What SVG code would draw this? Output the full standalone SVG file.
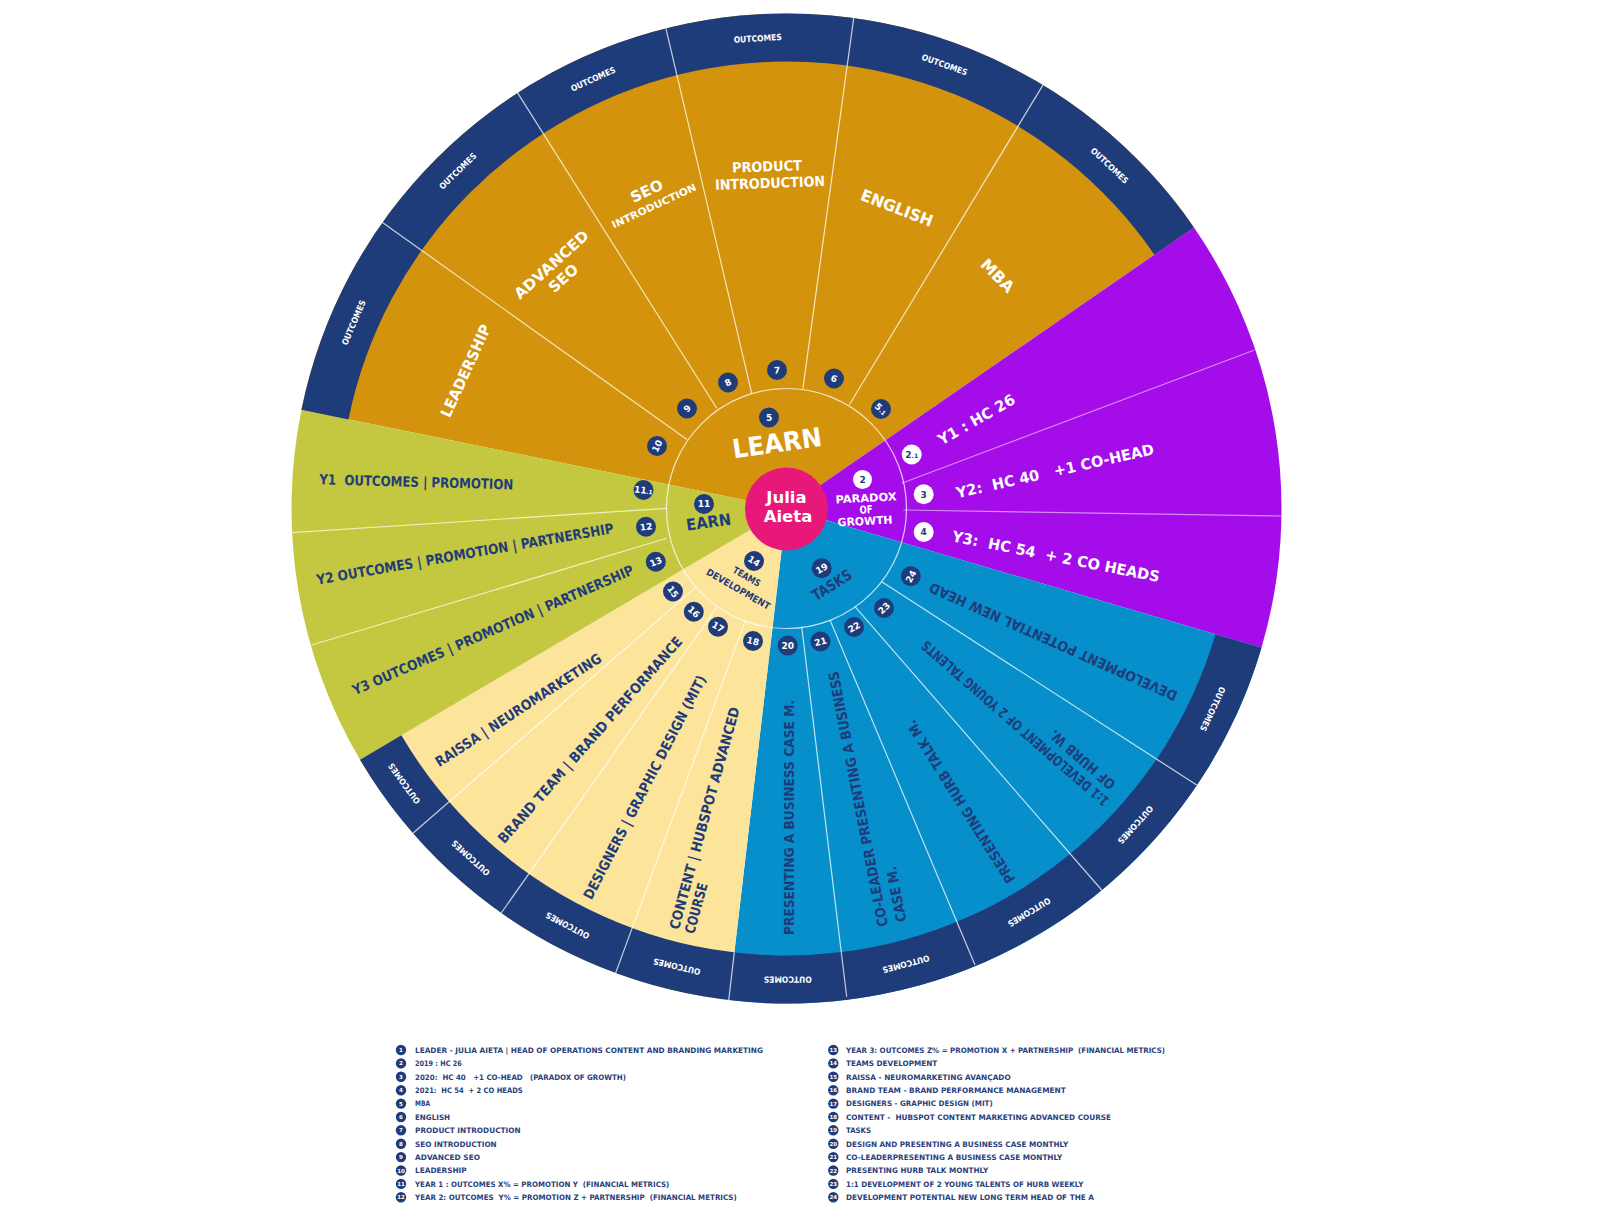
<svg xmlns="http://www.w3.org/2000/svg" width="1601" height="1223" viewBox="0 0 1601 1223">
<style>
.t{font-family:'DejaVu Sans','Liberation Sans',sans-serif;font-weight:700}
.w{fill:#fff}
.n{fill:#1F3C7A}
.c{text-anchor:middle}
.dv{stroke:#fff;stroke-opacity:.75;stroke-width:1.2;fill:none}
.bd circle{fill:#1F3C7A}
.bd text{fill:#fff;font-family:'DejaVu Sans','Liberation Sans',sans-serif;font-weight:700;font-size:9px;text-anchor:middle}
.bw circle{fill:#fff}
.bw text{fill:#1F3C7A;font-family:'DejaVu Sans','Liberation Sans',sans-serif;font-weight:700;font-size:9px;text-anchor:middle}
.oc{fill:#fff;font-family:'DejaVu Sans','Liberation Sans',sans-serif;font-weight:700;font-size:8.5px;text-anchor:middle}
.lg text{fill:#2A3F7C;font-family:'DejaVu Sans','Liberation Sans',sans-serif;font-weight:700;font-size:7.5px}
.lg circle{fill:#1F3C7A}
.lg .ln{fill:#fff;font-size:5.5px;text-anchor:middle}
</style>
<rect width="1601" height="1223" fill="#fff"/>

<g id="wheel" transform="translate(786.5 508.5)">
  <path id="sector-learn" d="M0,0 L-485.06,-98.69 A495,495 0 0 1 407.45,-281.08 Z" fill="#D4930C"/>
  <path id="sector-paradox" d="M0,0 L407.45,-281.08 A495,495 0 0 1 474.98,139.34 Z" fill="#A50CEA"/>
  <path id="sector-tasks" d="M0,0 L474.98,139.34 A495,495 0 0 1 -57.75,491.62 Z" fill="#078FCB"/>
  <path id="sector-teams" d="M0,0 L-57.75,491.62 A495,495 0 0 1 -426.51,251.23 Z" fill="#FCE59B"/>
  <path id="sector-earn" d="M0,0 L-426.51,251.23 A495,495 0 0 1 -485.06,-98.69 Z" fill="#C3C840"/>
  <path id="ring-top" d="M-485.06,-98.69 A495,495 0 0 1 407.45,-281.08 L367.94,-253.82 A447,447 0 0 0 -438.02,-89.12 Z" fill="#1F3C7A"/>
  <path id="ring-bottom" d="M474.98,139.34 A495,495 0 0 1 -426.51,251.23 L-385.15,226.87 A447,447 0 0 0 428.92,125.83 Z" fill="#1F3C7A"/>
</g>

<g id="connectors" transform="translate(786.5 508.5)">
  <path class="dv" d="M-99.5,-69 L-404,-286 M-69.8,-100.2 L-268.9,-415.6 M-34.8,-115.2 L-120.6,-480.1 M16.4,-119.9 L67.2,-490.4 M62.7,-103.5 L256.4,-423.4"/>
  <path d="M115.2,-25.2 L467.3,-158.3 M116.8,1.5 L494.5,7.5" stroke="#D58AF5" stroke-width="1.2" fill="none"/>
  <path d="M-119.8,-0.2 L-494.8,24.2 M-119.8,29.8 L-474.8,136.5" stroke="#EEF0B8" stroke-width="1.2" fill="none"/>
  <path class="dv" d="M-91.3,79.4 L-373.6,324.8 M-69.7,98.9 L-285.3,404.5 M-41.8,113.6 L-170.9,464.6"/>
  <path class="dv" d="M15.2,118.2 L60.2,488.2 M43.5,111.5 L188.5,456.5 M68.5,98.2 L315.2,381.5 M95.2,73.2 L410.2,276.5 M-52.2,443.9 L-57.75,491.62"/>
  <circle r="120" class="dv" stroke-width="1.3"/>
</g>

<g id="outcomes">
  <text class="oc" dy=".35em" transform="translate(353.7 322.6) rotate(-66.75)" textLength="48" lengthAdjust="spacingAndGlyphs">OUTCOMES</text>
  <text class="oc" dy=".35em" transform="translate(457.8 171.1) rotate(-44.25)" textLength="48" lengthAdjust="spacingAndGlyphs">OUTCOMES</text>
  <text class="oc" dy=".35em" transform="translate(593.1 79.1) rotate(-24.25)" textLength="48" lengthAdjust="spacingAndGlyphs">OUTCOMES</text>
  <text class="oc" dy=".35em" transform="translate(757.7 38.4) rotate(-3.5)" textLength="48" lengthAdjust="spacingAndGlyphs">OUTCOMES</text>
  <text class="oc" dy=".35em" transform="translate(944.5 64.8) rotate(19.6)" textLength="48" lengthAdjust="spacingAndGlyphs">OUTCOMES</text>
  <text class="oc" dy=".35em" transform="translate(1109.5 165.7) rotate(43.3)" textLength="48" lengthAdjust="spacingAndGlyphs">OUTCOMES</text>
  <text class="oc" dy=".35em" transform="translate(1212.7 709) rotate(115.2)" textLength="48" lengthAdjust="spacingAndGlyphs">OUTCOMES</text>
  <text class="oc" dy=".35em" transform="translate(1135.4 824.9) rotate(132.2)" textLength="48" lengthAdjust="spacingAndGlyphs">OUTCOMES</text>
  <text class="oc" dy=".35em" transform="translate(1029.1 912.2) rotate(149)" textLength="48" lengthAdjust="spacingAndGlyphs">OUTCOMES</text>
  <text class="oc" dy=".35em" transform="translate(906 964.1) rotate(165.3)" textLength="48" lengthAdjust="spacingAndGlyphs">OUTCOMES</text>
  <text class="oc" dy=".35em" transform="translate(787.7 979.5) rotate(179.85)" textLength="48" lengthAdjust="spacingAndGlyphs">OUTCOMES</text>
  <text class="oc" dy=".35em" transform="translate(676.9 966.6) rotate(193.45)" textLength="48" lengthAdjust="spacingAndGlyphs">OUTCOMES</text>
  <text class="oc" dy=".35em" transform="translate(567.6 925.5) rotate(207.7)" textLength="48" lengthAdjust="spacingAndGlyphs">OUTCOMES</text>
  <text class="oc" dy=".35em" transform="translate(470.7 858) rotate(222.1)" textLength="48" lengthAdjust="spacingAndGlyphs">OUTCOMES</text>
  <text class="oc" dy=".35em" transform="translate(404.2 783.6) rotate(234.25)" textLength="48" lengthAdjust="spacingAndGlyphs">OUTCOMES</text>
</g>

<g id="learn-items">
  <g id="n10"><text class="t w c" font-size="15" dy=".35em" transform="translate(465.8 370.8) rotate(-65.5)" textLength="100" lengthAdjust="spacingAndGlyphs">LEADERSHIP</text>
    <g class="bd" transform="translate(657 446)"><circle r="10"/><text transform="rotate(-64)" dy="3.3">10</text></g></g>
  <g id="n9"><text class="t w c" font-size="15" dy=".35em" transform="translate(551.5 264.7) rotate(-42)" textLength="94" lengthAdjust="spacingAndGlyphs">ADVANCED</text>
    <text class="t w c" font-size="15" dy=".35em" transform="translate(563.4 278.2) rotate(-42)" textLength="34" lengthAdjust="spacingAndGlyphs">SEO</text>
    <g class="bd" transform="translate(687 408.5)"><circle r="10"/><text transform="rotate(-45)" dy="3.3">9</text></g></g>
  <g id="n8"><text class="t w c" font-size="15" dy=".35em" transform="translate(646.7 191) rotate(-25)" textLength="34" lengthAdjust="spacingAndGlyphs">SEO</text>
    <text class="t w c" font-size="10" dy=".35em" transform="translate(654 206) rotate(-25)" textLength="92" lengthAdjust="spacingAndGlyphs">INTRODUCTION</text>
    <g class="bd" transform="translate(728 382.5)"><circle r="10"/><text transform="rotate(-25)" dy="3.3">8</text></g></g>
  <g id="n7"><text class="t w c" font-size="14" dy=".35em" transform="translate(767 166.5) rotate(-2)" textLength="70" lengthAdjust="spacingAndGlyphs">PRODUCT</text>
    <text class="t w c" font-size="14" dy=".35em" transform="translate(770 183) rotate(-2)" textLength="110" lengthAdjust="spacingAndGlyphs">INTRODUCTION</text>
    <g class="bd" transform="translate(777 370)"><circle r="10"/><text transform="rotate(-2)" dy="3.3">7</text></g></g>
  <g id="n6"><text class="t w c" font-size="16" dy=".35em" transform="translate(897 208) rotate(21)" textLength="76" lengthAdjust="spacingAndGlyphs">ENGLISH</text>
    <g class="bd" transform="translate(834 378.5)"><circle r="10"/><text transform="rotate(20)" dy="3.3">6</text></g></g>
  <g id="n5-1"><text class="t w c" font-size="16" dy=".35em" transform="translate(997.5 275.7) rotate(45)" textLength="40" lengthAdjust="spacingAndGlyphs">MBA</text>
    <g class="bd" transform="translate(881 409)"><circle r="10"/><text transform="rotate(43)" dy="3.3">5<tspan font-size="6">.1</tspan></text></g></g>
</g>

<g id="paradox-items">
  <g id="n2-1"><text class="t w c" font-size="15" dy=".35em" xml:space="preserve" transform="translate(976.5 419.6) rotate(-29.9)" textLength="86" lengthAdjust="spacingAndGlyphs">Y1 : HC 26</text>
    <g class="bw" transform="translate(911.7 454.5)"><circle r="10"/><text dy="3.3">2<tspan font-size="6">.1</tspan></text></g></g>
  <g id="n3"><text class="t w c" font-size="15" dy=".35em" xml:space="preserve" transform="translate(1055 471) rotate(-12.6)" textLength="202" lengthAdjust="spacingAndGlyphs">Y2:  HC 40   +1 CO-HEAD</text>
    <g class="bw" transform="translate(923.7 494.2)"><circle r="10"/><text dy="3.3">3</text></g></g>
  <g id="n4"><text class="t w c" font-size="15" dy=".35em" xml:space="preserve" transform="translate(1056 556.5) rotate(11.2)" textLength="211" lengthAdjust="spacingAndGlyphs">Y3:  HC 54  + 2 CO HEADS</text>
    <g class="bw" transform="translate(923.7 532)"><circle r="10"/><text dy="3.3">4</text></g></g>
  <g id="n2"><g class="bw" transform="translate(862.5 479.5)"><circle r="9.5"/><text dy="3.3">2</text></g>
    <text class="t w c" font-size="11" dy=".35em" transform="translate(866 498) rotate(-3)" textLength="61" lengthAdjust="spacingAndGlyphs">PARADOX</text>
    <text class="t w c" font-size="11" dy=".35em" transform="translate(866 509.5) rotate(-3)" textLength="13" lengthAdjust="spacingAndGlyphs">OF</text>
    <text class="t w c" font-size="11" dy=".35em" transform="translate(865 521) rotate(-3)" textLength="55" lengthAdjust="spacingAndGlyphs">GROWTH</text></g>
</g>

<g id="hub-learn"><text class="t w c" font-size="26" dy=".35em" transform="translate(777 443) rotate(-8)" textLength="90" lengthAdjust="spacingAndGlyphs">LEARN</text>
  <g class="bd" transform="translate(769 417.5)"><circle r="10"/><text dy="3.3">5</text></g></g>
<g id="hub-earn"><text class="t n c" font-size="16" dy=".35em" transform="translate(708.5 522) rotate(-8)" textLength="45" lengthAdjust="spacingAndGlyphs">EARN</text>
  <g class="bd" transform="translate(704 504)"><circle r="10"/><text dy="3.3">11</text></g></g>
<g id="hub-teams"><text class="t n c" font-size="9.5" dy=".35em" transform="translate(746.7 576.7) rotate(30)" textLength="30" lengthAdjust="spacingAndGlyphs">TEAMS</text>
  <text class="t n c" font-size="9.5" dy=".35em" transform="translate(738.3 589) rotate(30)" textLength="72" lengthAdjust="spacingAndGlyphs">DEVELOPMENT</text>
  <g class="bd" transform="translate(754 561)"><circle r="10"/><text transform="rotate(32)" dy="3.3">14</text></g></g>
<g id="hub-tasks"><text class="t n c" font-size="15" dy=".35em" transform="translate(831.7 585) rotate(-32.5)" textLength="44" lengthAdjust="spacingAndGlyphs">TASKS</text>
  <g class="bd" transform="translate(821.7 568.3)"><circle r="10"/><text transform="rotate(-30)" dy="3.3">19</text></g></g>

<g id="earn-items">
  <g id="n11-1"><text class="t n c" font-size="14" dy=".35em" xml:space="preserve" transform="translate(416.3 482) rotate(1.5)" textLength="194" lengthAdjust="spacingAndGlyphs">Y1  OUTCOMES | PROMOTION</text>
    <g class="bd" transform="translate(643.5 490)"><circle r="10"/><text transform="rotate(7)" dy="3.3">11<tspan font-size="6">.1</tspan></text></g></g>
  <g id="n12"><text class="t n c" font-size="14" dy=".35em" transform="translate(465 554) rotate(-9.9)" textLength="301" lengthAdjust="spacingAndGlyphs">Y2 OUTCOMES | PROMOTION | PARTNERSHIP</text>
    <g class="bd" transform="translate(646 526.8)"><circle r="10"/><text transform="rotate(-7)" dy="3.3">12</text></g></g>
  <g id="n13"><text class="t n c" font-size="14" dy=".35em" transform="translate(493 630) rotate(-23.5)" textLength="305" lengthAdjust="spacingAndGlyphs">Y3 OUTCOMES | PROMOTION | PARTNERSHIP</text>
    <g class="bd" transform="translate(655.8 561.7)"><circle r="10"/><text transform="rotate(-22)" dy="3.3">13</text></g></g>
</g>

<g id="teams-items">
  <g id="n15"><text class="t n c" font-size="14" dy=".35em" transform="translate(518.3 710) rotate(-33.1)" textLength="195" lengthAdjust="spacingAndGlyphs">RAISSA | NEUROMARKETING</text>
    <g class="bd" transform="translate(673 591.5)"><circle r="10"/><text transform="rotate(54)" dy="3.3">15</text></g></g>
  <g id="n16"><text class="t n c" font-size="14" dy=".35em" transform="translate(590 740) rotate(-48.5)" textLength="270" lengthAdjust="spacingAndGlyphs">BRAND TEAM | BRAND PERFORMANCE</text>
    <g class="bd" transform="translate(693.8 611.7)"><circle r="10"/><text transform="rotate(42)" dy="3.3">16</text></g></g>
  <g id="n17"><text class="t n c" font-size="14" dy=".35em" transform="translate(644.7 787.3) rotate(-62.6)" textLength="250" lengthAdjust="spacingAndGlyphs">DESIGNERS | GRAPHIC DESIGN (MIT)</text>
    <g class="bd" transform="translate(718 626.8)"><circle r="10"/><text transform="rotate(30)" dy="3.3">17</text></g></g>
  <g id="n18"><text class="t n" font-size="14" dy=".35em" transform="translate(673.9 929) rotate(-74.6)" textLength="230" lengthAdjust="spacingAndGlyphs">CONTENT | HUBSPOT ADVANCED</text>
    <text class="t n" font-size="14" dy=".35em" transform="translate(689.3 933.3) rotate(-74.6)" textLength="52" lengthAdjust="spacingAndGlyphs">COURSE</text>
    <g class="bd" transform="translate(753 641)"><circle r="10"/><text transform="rotate(14)" dy="3.3">18</text></g></g>
</g>

<g id="tasks-items">
  <g id="n20"><text class="t n c" font-size="14" dy=".35em" transform="translate(789.3 817.5) rotate(-90)" textLength="235" lengthAdjust="spacingAndGlyphs">PRESENTING A BUSINESS CASE M.</text>
    <g class="bd" transform="translate(787.7 645.6)"><circle r="10"/><text dy="3.3">20</text></g></g>
  <g id="n21"><text class="t n" font-size="14" dy=".35em" transform="translate(883.3 926.7) rotate(-101.1)" textLength="260" lengthAdjust="spacingAndGlyphs">CO-LEADER PRESENTING A BUSINESS</text>
    <text class="t n" font-size="14" dy=".35em" transform="translate(901.7 921.7) rotate(-101.1)" textLength="56" lengthAdjust="spacingAndGlyphs">CASE M.</text>
    <g class="bd" transform="translate(820.5 641.5)"><circle r="10"/><text transform="rotate(-14)" dy="3.3">21</text></g></g>
  <g id="n22"><text class="t n c" font-size="14" dy=".35em" transform="translate(960.8 801.7) rotate(237.6)" textLength="190" lengthAdjust="spacingAndGlyphs">PRESENTING HURB TALK M.</text>
    <g class="bd" transform="translate(854 627)"><circle r="10"/><text transform="rotate(-29)" dy="3.3">22</text></g></g>
  <g id="n23"><text class="t n" font-size="14" dy=".35em" transform="translate(1106.7 803.3) rotate(221.1)" textLength="243" lengthAdjust="spacingAndGlyphs">1:1 DEVELOPMENT OF 2 YOUNG TALENTS</text>
    <text class="t n" font-size="14" dy=".35em" transform="translate(1113.3 786.7) rotate(221.1)" textLength="82" lengthAdjust="spacingAndGlyphs">OF HURB W.</text>
    <g class="bd" transform="translate(884 608)"><circle r="10"/><text transform="rotate(-44)" dy="3.3">23</text></g></g>
  <g id="n24"><text class="t n c" font-size="14" dy=".35em" transform="translate(1053.3 641.7) rotate(204)" textLength="270" lengthAdjust="spacingAndGlyphs">DEVELOPMENT POTENTIAL NEW HEAD</text>
    <g class="bd" transform="translate(910.8 576.3)"><circle r="10"/><text transform="rotate(-61)" dy="3.3">24</text></g></g>
</g>

<g id="n1-leader">
  <circle cx="786.5" cy="509" r="41.5" fill="#E8187B"/>
  <text class="t w c" font-size="16.5" x="786.5" y="503">Julia</text>
  <text class="t w c" font-size="16.5" x="788" y="522">Aieta</text>
</g>

<g id="legend" class="lg">
  <g transform="translate(401 1050)"><circle r="5.2"/><text class="ln" dy="2">1</text></g>
  <g transform="translate(401 1063.4)"><circle r="5.2"/><text class="ln" dy="2">2</text></g>
  <g transform="translate(401 1076.8)"><circle r="5.2"/><text class="ln" dy="2">3</text></g>
  <g transform="translate(401 1090.2)"><circle r="5.2"/><text class="ln" dy="2">4</text></g>
  <g transform="translate(401 1103.6)"><circle r="5.2"/><text class="ln" dy="2">5</text></g>
  <g transform="translate(401 1117)"><circle r="5.2"/><text class="ln" dy="2">6</text></g>
  <g transform="translate(401 1130.3)"><circle r="5.2"/><text class="ln" dy="2">7</text></g>
  <g transform="translate(401 1143.7)"><circle r="5.2"/><text class="ln" dy="2">8</text></g>
  <g transform="translate(401 1157.1)"><circle r="5.2"/><text class="ln" dy="2">9</text></g>
  <g transform="translate(401 1170.5)"><circle r="5.2"/><text class="ln" dy="2">10</text></g>
  <g transform="translate(401 1183.9)"><circle r="5.2"/><text class="ln" dy="2">11</text></g>
  <g transform="translate(401 1197.3)"><circle r="5.2"/><text class="ln" dy="2">12</text></g>
  <text x="415" y="1052.8" textLength="348" lengthAdjust="spacingAndGlyphs">LEADER - JULIA AIETA | HEAD OF OPERATIONS CONTENT AND BRANDING MARKETING</text>
  <text x="415" y="1066.2" textLength="46.7" lengthAdjust="spacingAndGlyphs">2019 : HC 26</text>
  <text x="415" y="1079.6" xml:space="preserve" textLength="211" lengthAdjust="spacingAndGlyphs">2020:  HC 40   +1 CO-HEAD   (PARADOX OF GROWTH)</text>
  <text x="415" y="1093" xml:space="preserve" textLength="107.7" lengthAdjust="spacingAndGlyphs">2021:  HC 54  + 2 CO HEADS</text>
  <text x="415" y="1106.4" textLength="15" lengthAdjust="spacingAndGlyphs">MBA</text>
  <text x="415" y="1119.8" textLength="35" lengthAdjust="spacingAndGlyphs">ENGLISH</text>
  <text x="415" y="1133.1" textLength="105.7" lengthAdjust="spacingAndGlyphs">PRODUCT INTRODUCTION</text>
  <text x="415" y="1146.5" textLength="81.7" lengthAdjust="spacingAndGlyphs">SEO INTRODUCTION</text>
  <text x="415" y="1159.9" textLength="65" lengthAdjust="spacingAndGlyphs">ADVANCED SEO</text>
  <text x="415" y="1173.3" textLength="51.7" lengthAdjust="spacingAndGlyphs">LEADERSHIP</text>
  <text x="415" y="1186.7" xml:space="preserve" textLength="254.3" lengthAdjust="spacingAndGlyphs">YEAR 1 : OUTCOMES X% = PROMOTION Y  (FINANCIAL METRICS)</text>
  <text x="415" y="1200.1" xml:space="preserve" textLength="321.7" lengthAdjust="spacingAndGlyphs">YEAR 2: OUTCOMES  Y% = PROMOTION Z + PARTNERSHIP  (FINANCIAL METRICS)</text>

  <g transform="translate(833.3 1050)"><circle r="5.2"/><text class="ln" dy="2">13</text></g>
  <g transform="translate(833.3 1063.4)"><circle r="5.2"/><text class="ln" dy="2">14</text></g>
  <g transform="translate(833.3 1076.8)"><circle r="5.2"/><text class="ln" dy="2">15</text></g>
  <g transform="translate(833.3 1090.2)"><circle r="5.2"/><text class="ln" dy="2">16</text></g>
  <g transform="translate(833.3 1103.6)"><circle r="5.2"/><text class="ln" dy="2">17</text></g>
  <g transform="translate(833.3 1117)"><circle r="5.2"/><text class="ln" dy="2">18</text></g>
  <g transform="translate(833.3 1130.3)"><circle r="5.2"/><text class="ln" dy="2">19</text></g>
  <g transform="translate(833.3 1143.7)"><circle r="5.2"/><text class="ln" dy="2">20</text></g>
  <g transform="translate(833.3 1157.1)"><circle r="5.2"/><text class="ln" dy="2">21</text></g>
  <g transform="translate(833.3 1170.5)"><circle r="5.2"/><text class="ln" dy="2">22</text></g>
  <g transform="translate(833.3 1183.9)"><circle r="5.2"/><text class="ln" dy="2">23</text></g>
  <g transform="translate(833.3 1197.3)"><circle r="5.2"/><text class="ln" dy="2">24</text></g>
  <text x="846" y="1052.8" xml:space="preserve" textLength="319" lengthAdjust="spacingAndGlyphs">YEAR 3: OUTCOMES Z% = PROMOTION X + PARTNERSHIP  (FINANCIAL METRICS)</text>
  <text x="846" y="1066.2" textLength="91.3" lengthAdjust="spacingAndGlyphs">TEAMS DEVELOPMENT</text>
  <text x="846" y="1079.6" textLength="164.7" lengthAdjust="spacingAndGlyphs">RAISSA - NEUROMARKETING AVANÇADO</text>
  <text x="846" y="1093" textLength="219.7" lengthAdjust="spacingAndGlyphs">BRAND TEAM - BRAND PERFORMANCE MANAGEMENT</text>
  <text x="846" y="1106.4" textLength="146.7" lengthAdjust="spacingAndGlyphs">DESIGNERS - GRAPHIC DESIGN (MIT)</text>
  <text x="846" y="1119.8" xml:space="preserve" textLength="265" lengthAdjust="spacingAndGlyphs">CONTENT -  HUBSPOT CONTENT MARKETING ADVANCED COURSE</text>
  <text x="846" y="1133.1" textLength="25" lengthAdjust="spacingAndGlyphs">TASKS</text>
  <text x="846" y="1146.5" textLength="222.3" lengthAdjust="spacingAndGlyphs">DESIGN AND PRESENTING A BUSINESS CASE MONTHLY</text>
  <text x="846" y="1159.9" textLength="216.3" lengthAdjust="spacingAndGlyphs">CO-LEADERPRESENTING A BUSINESS CASE MONTHLY</text>
  <text x="846" y="1173.3" textLength="142.3" lengthAdjust="spacingAndGlyphs">PRESENTING HURB TALK MONTHLY</text>
  <text x="846" y="1186.7" textLength="237.3" lengthAdjust="spacingAndGlyphs">1:1 DEVELOPMENT OF 2 YOUNG TALENTS OF HURB WEEKLY</text>
  <text x="846" y="1200.1" textLength="248" lengthAdjust="spacingAndGlyphs">DEVELOPMENT POTENTIAL NEW LONG TERM HEAD OF THE A</text>
</g>
</svg>
